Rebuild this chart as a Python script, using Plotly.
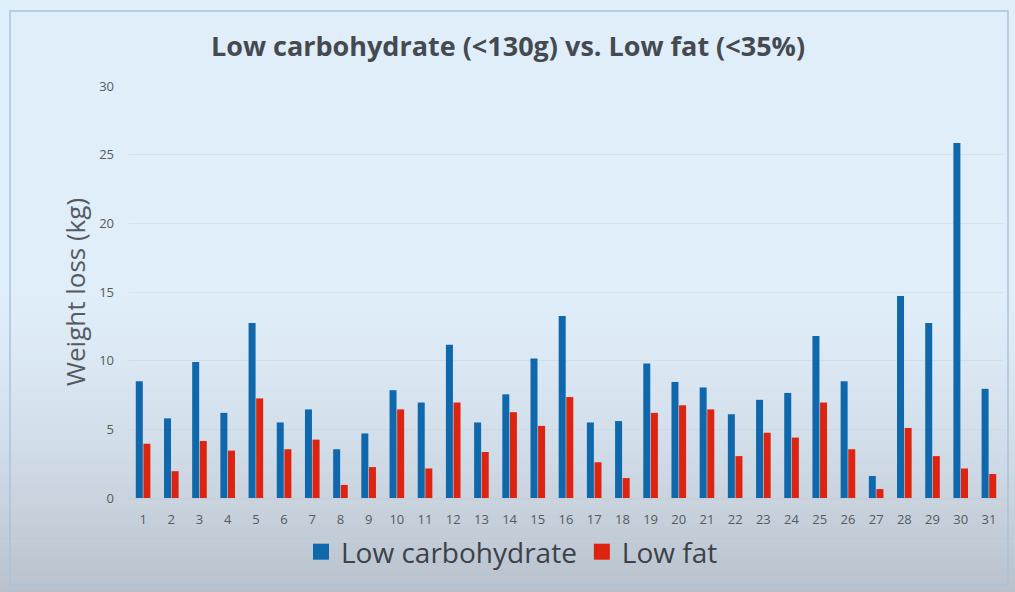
import plotly.graph_objects as go

categories = [str(i) for i in range(1, 32)]
low_carb = [8.5, 5.8, 9.9, 6.2, 12.75, 5.5, 6.45, 3.55, 4.7, 7.85, 6.95, 11.15, 5.5, 7.55,
            10.15, 13.25, 5.5, 5.6, 9.8, 8.45, 8.05, 6.1, 7.15, 7.65, 11.8, 8.5, 1.6, 14.7,
            12.75, 25.85, 7.95]
low_fat = [3.95, 1.95, 4.15, 3.45, 7.25, 3.55, 4.25, 0.95, 2.25, 6.45, 2.15, 6.95, 3.35, 6.25,
           5.25, 7.35, 2.6, 1.45, 6.2, 6.75, 6.45, 3.05, 4.75, 4.4, 6.95, 3.55, 0.65, 5.1,
           3.05, 2.15, 1.75]
series_names = ["Low carbohydrate", "Low fat"]
y_ticks = [0, 5, 10, 15, 20, 25, 30]

BLUE = "#0f68ac"
RED = "#dc2410"

fig = go.Figure()
fig.add_trace(go.Bar(x=categories, y=low_carb, name=series_names[0], marker_color=BLUE,
                     marker_line_width=0, showlegend=False))
fig.add_trace(go.Bar(x=categories, y=low_fat, name=series_names[1], marker_color=RED,
                     marker_line_width=0, showlegend=False))
# legend entries with larger square swatches
for nm, col in zip(series_names, [BLUE, RED]):
    fig.add_trace(go.Scatter(x=[None], y=[None], mode="markers", name=nm,
                             marker=dict(symbol="square", size=17, color=col),
                             hoverinfo="skip"))

W, H = 1015, 592
L, R, T, B = 129, 12, 86, 94
pw, ph = W - L - R, H - T - B


def py(p):
    return (H - B - p) / ph


def px(p):
    return (p - L) / pw


def lerp(c1, c2, t):
    return "#%02x%02x%02x" % tuple(int(round(a + (b - a) * t)) for a, b in zip(c1, c2))


top = (224, 238, 250)
bot = (184, 193, 204)
start = 280
shapes = [dict(type="rect", xref="paper", yref="paper", x0=px(-5), x1=px(W + 5),
               y0=py(start), y1=py(-5), fillcolor=lerp(top, top, 0), line_width=0,
               layer="below")]
n = 80
for i in range(n):
    p0 = start + (H - start) * i / n
    p1 = start + (H - start) * (i + 1) / n
    t = (i + 0.5) / n
    col = lerp(top, bot, t ** 1.5)
    shapes.append(dict(type="rect", xref="paper", yref="paper", x0=px(-5), x1=px(W + 5),
                       y0=py(p1 + 0.5), y1=py(p0), fillcolor=col, line_width=0, layer="below"))
# frame
shapes.append(dict(type="rect", xref="paper", yref="paper", x0=px(10), x1=px(1008),
                   y0=py(585), y1=py(11), line=dict(color="#a6c3dc", width=1.5),
                   fillcolor="rgba(0,0,0,0)", layer="below"))

fig.update_layout(
    width=W, height=H,
    margin=dict(l=L, r=R, t=T, b=B),
    paper_bgcolor="rgb(224,238,250)",
    plot_bgcolor="rgba(0,0,0,0)",
    shapes=shapes,
    barmode="group",
    bargap=0.46,
    bargroupgap=0.08,
    title=dict(text="<b>Low carbohydrate (&lt;130g) vs. Low fat (&lt;35%)</b>",
               x=px(508), xref="paper", xanchor="center", y=1 - 47 / H,
               yanchor="middle", yref="container",
               font=dict(family="Open Sans", size=27, color="#454a50")),
    font=dict(family="Open Sans", color="#555a60"),
    showlegend=True,
    legend=dict(orientation="h", x=px(512), xanchor="center", y=py(552), yanchor="middle",
                font=dict(size=28, color="#3d4148"), itemwidth=30,
                bgcolor="rgba(0,0,0,0)", traceorder="normal"),
    xaxis=dict(tickfont=dict(size=13, color="#555a60"), showgrid=False, showline=True,
               linecolor="#c8cdd4", linewidth=1, ticks="", range=[-0.5, 30.5],
               ticklabelstandoff=9),
    yaxis=dict(range=[0, 30], tickvals=y_ticks, tickfont=dict(size=13, color="#555a60"),
               showgrid=True, gridcolor="rgba(200,208,218,0.45)", gridwidth=1,
               zeroline=False, showline=False, ticks="", ticklen=0,
               ticklabelstandoff=14,
               title=dict(text="Weight loss (kg)", font=dict(size=26, color="#555a60"),
                          standoff=6)),
)

fig.write_html("out.html", config={"displayModeBar": False},
               post_script="document.body.style.margin='0';")
